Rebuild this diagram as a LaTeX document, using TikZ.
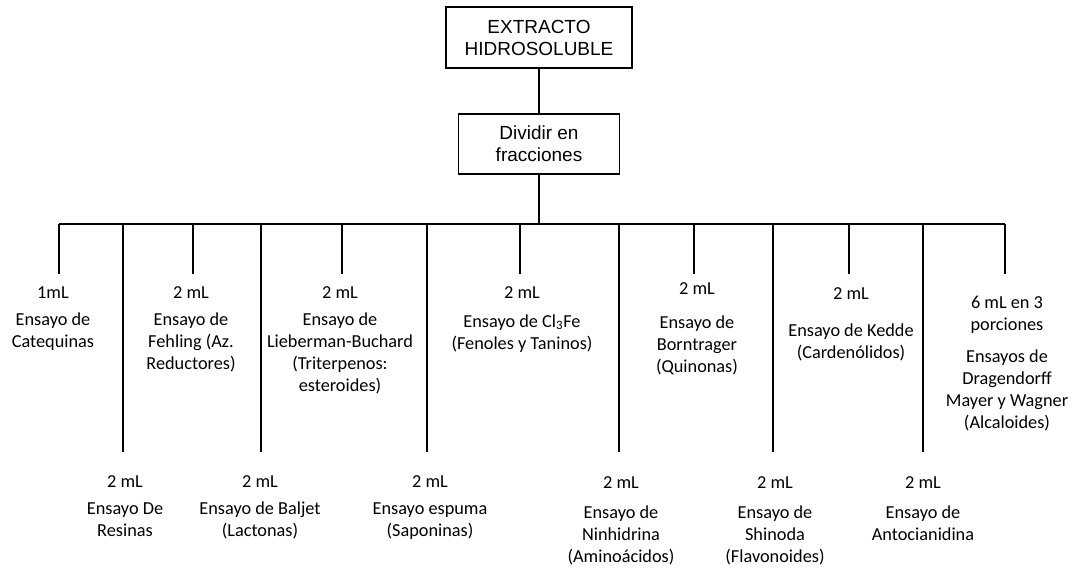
\documentclass[tikz,border=0pt]{standalone}
\usepackage{fontspec}
\setmainfont{Carlito}
\newfontfamily\cajafont{Liberation Sans}
\begin{document}
\begin{tikzpicture}[x=0.025cm, y=-0.025cm,
		caja/.style={draw, line width=0.9pt, align=center, font=\cajafont\fontsize{13.5}{15.6}\selectfont},
		ensayo/.style={align=center, anchor=north, inner sep=0pt, font=\fontsize{13}{15.6}\selectfont},
		rama/.style={line width=1.4pt}]
		\useasboundingbox (0,0) rectangle (1084,578);
		\node[caja, minimum width=4.65cm, minimum height=1.525cm] (E) at (539,37.5) {EXTRACTO\\HIDROSOLUBLE};
		\node[caja, minimum width=4.03cm, minimum height=1.5cm] (D) at (539,144) {Dividir en\\fracciones};
		\coordinate (B) at (539,224);
		\draw[rama] (E) -- (D);
		\draw[rama] (D) -- (B);
		% ramas: cortas arriba, largas abajo
		\foreach \x/\y [count=\i] in {59/274,123/452,193/274,261/452,342/274,427/452,520/274,619/452,694/274,773/452,849/274,923/452,1005/274} {
			\coordinate (a\i) at (\x,224);
			\coordinate (b\i) at (\x,\y);
			\draw[rama] (a\i) -- (b\i);
		}
		\draw[rama] (a1) -- (a13);
		% fila de arriba
		\node[ensayo] (t1) at (53,286) {1mL\\[4pt]Ensayo de\\Catequinas};
		\node[ensayo] (t3) at (191,286) {2 mL\\[4pt]Ensayo de\\Fehling (Az.\\Reductores)};
		\node[ensayo] (t5) at (340,286) {2 mL\\[4pt]Ensayo de\\Lieberman-Buchard\\(Triterpenos:\\esteroides)};
		\node[ensayo] (t7) at (522,286) {2 mL\\[5pt]Ensayo de Cl\textsubscript{3}Fe\\(Fenoles y Taninos)};
		\node[ensayo] (t9) at (697,282) {2 mL\\[9pt]Ensayo de\\Borntrager\\(Quinonas)};
		\node[ensayo] (t11) at (851,287) {2 mL\\[11pt]Ensayo de Kedde\\(Cardenólidos)};
		\node[ensayo] (t13) at (1007,296) {6 mL en 3\\porciones\\[7pt]Ensayos de\\Dragendorff\\Mayer y Wagner\\(Alcaloides)};
		% fila de abajo
		\node[ensayo] (t2) at (125,475) {2 mL\\[4pt]Ensayo De\\Resinas};
		\node[ensayo] (t4) at (260,475) {2 mL\\[4pt]Ensayo de Baljet\\(Lactonas)};
		\node[ensayo] (t6) at (430,475) {2 mL\\[4pt]Ensayo espuma\\(Saponinas)};
		\node[ensayo] (t8) at (621,476) {2 mL\\[6pt]Ensayo de\\Ninhidrina\\(Aminoácidos)};
		\node[ensayo] (t10) at (775,476) {2 mL\\[6pt]Ensayo de\\Shinoda\\(Flavonoides)};
		\node[ensayo] (t12) at (923,476) {2 mL\\[6pt]Ensayo de\\Antocianidina};
\end{tikzpicture}
\end{document}
